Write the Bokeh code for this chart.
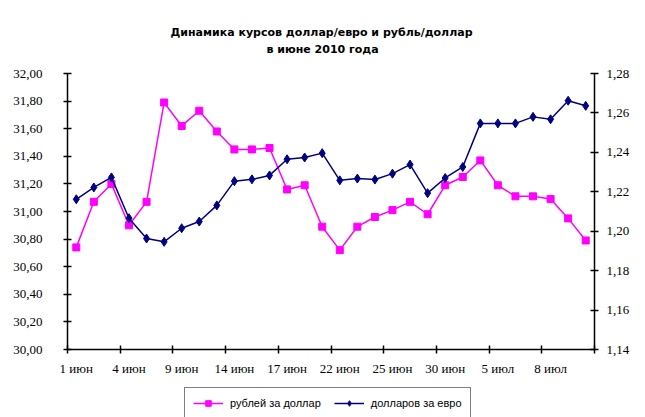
from bokeh.plotting import figure
from bokeh.models import (LinearAxis, Range1d, FixedTicker, CustomJSTickFormatter,
                          Legend, LegendItem, Title, ColumnDataSource)
from bokeh.layouts import column
from bokeh.embed import file_html
from bokeh.resources import INLINE

dates = ["1 июн", "2 июн", "3 июн", "4 июн", "5 июн", "8 июн", "9 июн", "10 июн",
         "11 июн", "14 июн", "15 июн", "16 июн", "17 июн", "18 июн", "19 июн",
         "22 июн", "23 июн", "24 июн", "25 июн", "26 июн", "29 июн", "30 июн",
         "1 июл", "2 июл", "5 июл", "6 июл", "7 июл", "8 июл", "9 июл", "10 июл"]

rub_usd = [30.74, 31.07, 31.20, 30.90, 31.07, 31.79, 31.62, 31.73, 31.58, 31.45,
           31.45, 31.46, 31.16, 31.19, 30.89, 30.72, 30.89, 30.96, 31.01, 31.07,
           30.98, 31.19, 31.25, 31.37, 31.19, 31.11, 31.11, 31.09, 30.95, 30.79]

usd_eur = [1.2162, 1.2222, 1.2273, 1.2066, 1.1963, 1.1946, 1.2015, 1.2049, 1.2131, 1.2254,
           1.2263, 1.2283, 1.2365, 1.2374, 1.2396, 1.2258, 1.2267, 1.2262, 1.2292, 1.2338,
           1.2193, 1.2270, 1.2326, 1.2547, 1.2547, 1.2547, 1.2580, 1.2568, 1.2662, 1.2636]

left_ticks = [30.0, 30.2, 30.4, 30.6, 30.8, 31.0, 31.2, 31.4, 31.6, 31.8, 32.0]
right_ticks = [1.14, 1.16, 1.18, 1.20, 1.22, 1.24, 1.26, 1.28]
label_every = 3

title_line1 = "Динамика курсов доллар/евро и рубль/доллар"
title_line2 = "в июне 2010 года"
series_names = ["рублей за доллар", "долларов за евро"]

n = len(dates)
xs = list(range(n))
src = ColumnDataSource(dict(x=xs, rub=rub_usd, eur=usd_eur))

PINK = "#FF00FF"
NAVY = "#000080"

p = figure(width=645, height=383, output_backend="svg", toolbar_location=None,
           x_range=Range1d(-0.5, n - 0.5), y_range=Range1d(left_ticks[0], left_ticks[-1]),
           x_axis_type=None, y_axis_type=None,
           min_border_left=67, min_border_right=51, min_border_top=73, min_border_bottom=34)
p.extra_y_ranges = {"r": Range1d(right_ticks[0], right_ticks[-1])}
p.outline_line_color = None
p.background_fill_color = "white"
p.border_fill_color = "white"

fmt = CustomJSTickFormatter(code="return tick.toFixed(2).replace('.', ',');")

def style_axis(ax):
    ax.axis_line_color = "black"
    ax.axis_line_width = 1.5
    ax.major_tick_line_color = "black"
    ax.major_tick_line_width = 1.5
    ax.minor_tick_line_color = "black"
    ax.minor_tick_line_width = 1.5
    ax.major_label_text_font = "Liberation Serif"
    ax.major_label_text_font_size = "13px"
    ax.major_label_text_color = "black"

yl = LinearAxis(ticker=FixedTicker(ticks=left_ticks), formatter=fmt)
style_axis(yl)
yl.major_tick_in = 4
yl.major_tick_out = 4
yl.major_label_standoff = 21
p.add_layout(yl, "left")

yr = LinearAxis(y_range_name="r", ticker=FixedTicker(ticks=right_ticks), formatter=fmt)
style_axis(yr)
yr.major_tick_in = 4
yr.major_tick_out = 4
yr.major_label_standoff = 8
p.add_layout(yr, "right")

label_idx = list(range(0, n, label_every))
bounds = [i - 0.5 for i in range(0, n + 1, label_every)]
xa = LinearAxis(ticker=FixedTicker(ticks=label_idx, minor_ticks=bounds),
                major_label_overrides={i: dates[i] for i in label_idx})
style_axis(xa)
xa.major_tick_line_color = None
xa.major_tick_in = 0
xa.major_tick_out = 4
xa.minor_tick_in = 4
xa.minor_tick_out = 4
xa.major_label_standoff = 7
p.add_layout(xa, "below")

p.line("x", "rub", source=src, line_color=PINK, line_width=1.5)
p.scatter("x", "rub", source=src, marker="square", size=7,
          fill_color=PINK, line_color=PINK)
p.line("x", "eur", source=src, line_color=NAVY, line_width=1.5, y_range_name="r")
p.scatter("x", "eur", source=src, marker="diamond", size=9,
          fill_color=NAVY, line_color=NAVY, y_range_name="r")

spacer = Title(text=" ", text_font_size="11px", standoff=3)
t2 = Title(text=title_line2, align="left", offset=199, text_font="DejaVu Sans",
           text_font_size="11px", text_font_style="bold", text_color="black", standoff=2)
t1 = Title(text=title_line1, align="left", offset=103,
           text_font="DejaVu Sans", text_font_size="11px", text_font_style="bold",
           text_color="black", standoff=2)
p.add_layout(spacer, "above")
p.add_layout(t2, "above")
p.add_layout(t1, "above")

# legend strip below the chart (its series are out of its view; only the legend shows)
lg = figure(width=645, height=34, output_backend="svg", toolbar_location=None,
            x_axis_type=None, y_axis_type=None, min_border=0,
            x_range=Range1d(-0.5, n - 0.5), y_range=Range1d(-2, -1))
lg.outline_line_color = None
a1 = lg.line("x", "rub", source=src, line_color=PINK, line_width=1.5)
a2 = lg.scatter("x", "rub", source=src, marker="square", size=7,
                fill_color=PINK, line_color=PINK)
b1 = lg.line("x", "eur", source=src, line_color=NAVY, line_width=1.5)
b2 = lg.scatter("x", "eur", source=src, marker="diamond", size=9,
                fill_color=NAVY, line_color=NAVY)

legend = Legend(items=[LegendItem(label=series_names[0], renderers=[a1, a2]),
                       LegendItem(label=series_names[1], renderers=[b1, b2])],
                orientation="horizontal", location=(117, -2),
                padding=8, spacing=13, label_standoff=7,
                glyph_width=30, glyph_height=14, label_height=14,
                label_text_font="Liberation Sans", label_text_font_size="11px",
                label_text_color="black",
                border_line_color="black", border_line_width=1.5,
                background_fill_color="white", background_fill_alpha=1.0)
lg.add_layout(legend, "center")

layout = column(p, lg, spacing=0)
open("out.html", "w").write(file_html(layout, INLINE))
